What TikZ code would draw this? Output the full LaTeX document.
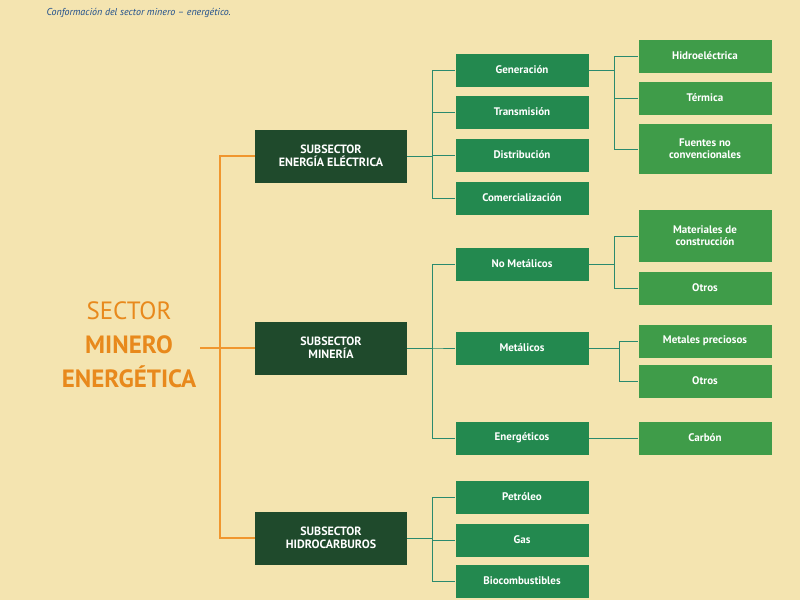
\documentclass[tikz,border=0pt]{standalone}
\usepackage{fontspec}
\setmainfont{PT Sans}
\begin{document}
\begin{tikzpicture}[x=1pt,y=-1pt,
 sub/.style={draw=none,fill=sdark,text=white,font=\bfseries\fontsize{12}{13}\selectfont,align=center,minimum width=152pt,minimum height=53pt,inner sep=1pt},
 l2/.style={fill=lgreen,text=white,font=\bfseries\fontsize{11}{12}\selectfont,align=center,minimum width=133pt,minimum height=33pt,inner sep=1pt},
 l3/.style={fill=mgreen,text=white,font=\bfseries\fontsize{11}{12}\selectfont,align=center,minimum width=133pt,minimum height=33pt,inner sep=1pt},
 oline/.style={draw=lorange,line width=1.4pt},
 tline/.style={draw=tealc,line width=1pt}]
\definecolor{bg}{HTML}{F4E4B0}
\definecolor{sdark}{HTML}{1F4A2C}
\definecolor{lgreen}{HTML}{23894F}
\definecolor{mgreen}{HTML}{3F9C49}
\definecolor{lorange}{HTML}{F0962E}
\definecolor{tealc}{HTML}{2A8A6E}
\definecolor{titc}{HTML}{1E4E8C}
\definecolor{dorange}{HTML}{E8891C}
\fill[bg] (0,0) rectangle (800,600);
\node[anchor=west,text=titc,font=\itshape\fontsize{10}{11}\selectfont] (tit) at (43,13) {Conformación del sector minero – energético.};
\node[align=center,text=dorange,font=\fontsize{25}{34}\selectfont,inner sep=0] (sec) at (129,345) {SECTOR\\\textbf{MINERO}\\\textbf{ENERGÉTICA}};
% subsectors
\node[sub] (s1) at (331,156) {SUBSECTOR\\ENERGÍA ELÉCTRICA};
\node[sub] (s2) at (331,348) {SUBSECTOR\\MINERÍA};
\node[sub] (s3) at (331,538) {SUBSECTOR\\HIDROCARBUROS};
% level 2
\node[l2] (g) at (522,70) {Generación};
\node[l2] (t) at (522,112) {Transmisión};
\node[l2] (d) at (522,155) {Distribución};
\node[l2] (c) at (522,198) {Comercialización};
\node[l2] (nm) at (522,264) {No Metálicos};
\node[l2] (me) at (522,348) {Metálicos};
\node[l2] (en) at (522,438) {Energéticos};
\node[l2] (pe) at (522,497) {Petróleo};
\node[l2] (ga) at (522,540) {Gas};
\node[l2] (bi) at (522,581) {Biocombustibles};
% level 3
\node[l3] (h) at (705,56) {Hidroeléctrica};
\node[l3] (te) at (705,98) {Térmica};
\node[l3,minimum height=50pt] (fn) at (705,149) {Fuentes no\\convencionales};
\node[l3,minimum height=52pt] (ma) at (705,236) {Materiales de\\construcción};
\node[l3] (o1) at (705,288) {Otros};
\node[l3] (mp) at (705,341) {Metales preciosos};
\node[l3] (o2) at (705,381) {Otros};
\node[l3] (ca) at (705,438) {Carbón};
% orange connectors
\coordinate (oa) at (220,348);
\draw[oline] (sec.east|-oa) ++(4,0) -- (oa);
\draw[oline] (s1.west) -| (oa) |- (s3.west);
\draw[oline] (oa) -- (s2.west);
% teal connectors
\foreach \a/\b in {s1/g,s1/t,s1/d,s1/c,s2/nm,s2/me,s2/en,s3/pe,s3/ga,s3/bi}
  \draw[tline] (\a.east) -- ++(25,0) |- (\b.west);
\foreach \a/\b in {g/h,g/te,g/fn,nm/ma,nm/o1}
  \draw[tline] (\a.east) -- ++(26,0) |- (\b.west);
\foreach \a/\b in {me/mp,me/o2}
  \draw[tline] (\a.east) -- ++(31,0) |- (\b.west);
\draw[tline] (en.east) -- (ca.west);
\end{tikzpicture}
\end{document}
